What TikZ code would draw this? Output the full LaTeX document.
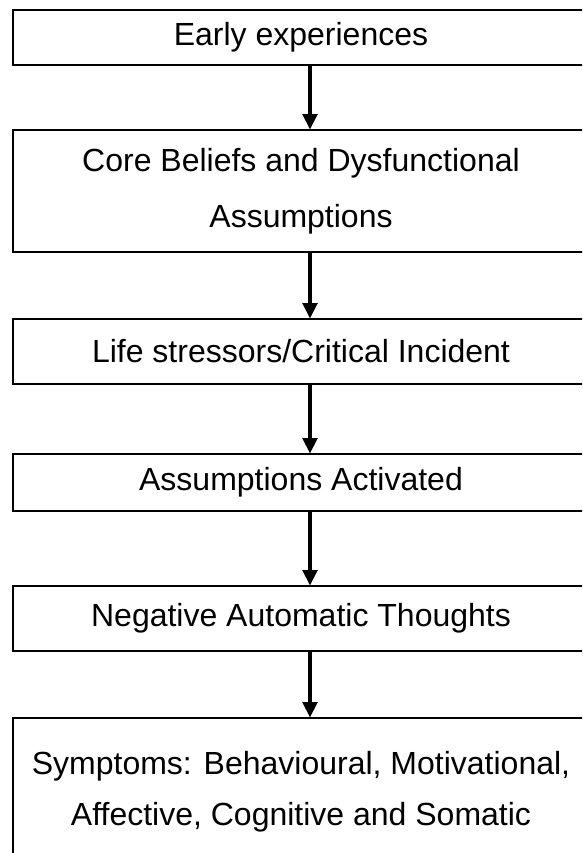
\documentclass[tikz,border=0pt]{standalone}
\usepackage{fontspec}
\setmainfont{Liberation Sans}
\usetikzlibrary{arrows.meta,positioning}

\tikzset{
  stage/.style={draw, line width=0.8pt, inner sep=0pt, minimum width=432pt,
    align=center, font=\fontsize{24pt}{42pt}\selectfont},
  flow/.style={line width=2.4pt, -{Triangle[width=11pt,length=11.5pt]}},
}

\begin{document}
\begin{tikzpicture}[x=0.75pt,y=-0.75pt]
\useasboundingbox (0,0) rectangle (582,853);
\clip (0,0) rectangle (582,853);

\node [stage, minimum height=41.25pt] (early) at (301,37.5) {Early experiences};
\node [stage, minimum height=91.5pt] (core) at (301,191) {Core Beliefs and Dysfunctional\\Assumptions};
\node [stage, minimum height=48.75pt] (life) at (301,351.5) {Life stressors/Critical Incident};
\node [stage, minimum height=42.75pt] (activ) at (301,482.5) {Assumptions Activated};
\node [stage, minimum height=48.75pt] (nat) at (301,618.5) {Negative Automatic Thoughts};
\node [stage, minimum height=111pt, font=\fontsize{24pt}{38pt}\selectfont] (sympt) at (301,792) {Symptoms: Behavioural, Motivational,\\Affective, Cognitive and Somatic};

\coordinate (ax) at (310,0);
\draw [flow] (early.south -| ax) -- (core.north -| ax);
\draw [flow] (core.south -| ax) -- (life.north -| ax);
\draw [flow] (life.south -| ax) -- (activ.north -| ax);
\draw [flow] (activ.south -| ax) -- (nat.north -| ax);
\draw [flow] (nat.south -| ax) -- (sympt.north -| ax);

\end{tikzpicture}
\end{document}
